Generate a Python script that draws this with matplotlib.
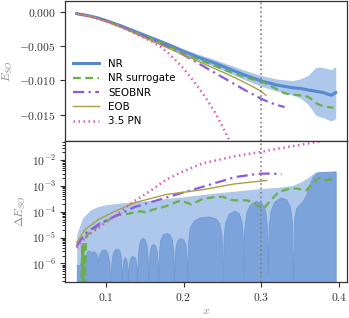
import numpy as np
import matplotlib
matplotlib.use("Agg")
from matplotlib import pyplot as plt
from matplotlib import ticker

plt.rcParams['mathtext.fontset'] = 'cm'
plt.rcParams['font.family'] = ['DejaVu Sans']

# ---- top panel: E_SO(x) ----
nr_x = [0.0626, 0.07, 0.08, 0.09, 0.10, 0.12, 0.14, 0.16, 0.18, 0.20, 0.22, 0.24,
        0.26, 0.28, 0.30, 0.32, 0.34, 0.35, 0.36, 0.365, 0.37, 0.375, 0.38, 0.385,
        0.39, 0.3958]
nr_e = [-0.0003, -0.00045, -0.00066, -0.00093, -0.0013, -0.0021, -0.0030, -0.0039,
        -0.0048, -0.0058, -0.0067, -0.0075, -0.0084, -0.0093, -0.0101, -0.0107,
        -0.0111, -0.0112, -0.0114, -0.0115, -0.0116, -0.0117, -0.0118, -0.0120,
        -0.0122, -0.0118]
# NR error estimate (log10), same grid as NR
nr_err_log = [-4.87, -4.25, -3.93, -3.80, -3.73, -3.66, -3.61, -3.55, -3.48, -3.42,
              -3.35, -3.28, -3.22, -3.16, -3.10, -3.06, -2.98, -2.86, -2.68, -2.56,
              -2.46, -2.44, -2.44, -2.43, -2.43, -2.42]

sur_x = [0.0626, 0.07, 0.08, 0.09, 0.10, 0.12, 0.14, 0.16, 0.18, 0.20, 0.22, 0.24,
         0.26, 0.28, 0.30, 0.31, 0.32, 0.33, 0.34, 0.35, 0.36, 0.365, 0.37, 0.375,
         0.38, 0.385, 0.393]
sur_e = [-0.0003, -0.00046, -0.00069, -0.00096, -0.00134, -0.00218, -0.0031, -0.0040,
         -0.00495, -0.0061, -0.0070, -0.0079, -0.0088, -0.0096, -0.0102, -0.0107,
         -0.0113, -0.0119, -0.0121, -0.0122, -0.0124, -0.0128, -0.0133, -0.0136,
         -0.0138, -0.0139, -0.0140]

seob_x = [0.0626, 0.08, 0.10, 0.12, 0.14, 0.16, 0.18, 0.20, 0.22, 0.24, 0.26, 0.28,
          0.30, 0.31, 0.32, 0.33]
seob_e = [-0.0003, -0.0007, -0.00135, -0.0022, -0.0032, -0.0042, -0.0052, -0.0063,
          -0.0076, -0.0089, -0.0102, -0.0115, -0.0127, -0.0132, -0.0136, -0.0139]

eob_x = [0.0626, 0.08, 0.10, 0.12, 0.14, 0.16, 0.18, 0.20, 0.22, 0.24, 0.26, 0.28,
         0.30, 0.306]
eob_e = [-0.0003, -0.0007, -0.0014, -0.0023, -0.0033, -0.0043, -0.0053, -0.0063,
         -0.0073, -0.0083, -0.0093, -0.0104, -0.0116, -0.0122]

pn_x = [0.0626, 0.08, 0.10, 0.12, 0.14, 0.16, 0.17, 0.18, 0.19, 0.20, 0.21, 0.22,
        0.23, 0.24, 0.25, 0.26]
pn_e = [-0.0003, -0.00072, -0.0014, -0.0023, -0.0033, -0.0044, -0.0051, -0.0060,
        -0.0071, -0.0083, -0.0097, -0.0112, -0.0128, -0.0146, -0.0167, -0.0190]

# ---- bottom panel: Delta E_SO (log10 values) ----
dark_x = [0.0626, 0.065, 0.068, 0.071, 0.074, 0.0755, 0.078, 0.081, 0.084, 0.087,
          0.089, 0.0905, 0.092, 0.095, 0.098, 0.101, 0.103, 0.1045, 0.106,
          0.107, 0.109, 0.111, 0.114, 0.117, 0.119, 0.1198, 0.1206,
          0.1212, 0.1225, 0.1245, 0.1265, 0.1278, 0.1284,
          0.129, 0.131, 0.1344, 0.138, 0.1398, 0.1404,
          0.1411, 0.1425, 0.1445, 0.1475, 0.1505, 0.1525, 0.1539, 0.1546,
          0.1553, 0.1565, 0.1585, 0.161, 0.1635, 0.1655, 0.1668, 0.1675,
          0.1683, 0.170, 0.173, 0.1776, 0.1822, 0.1852, 0.1869, 0.1877,
          0.1885, 0.190, 0.1925, 0.1963, 0.200, 0.2027, 0.2041, 0.2049,
          0.2058, 0.208, 0.213, 0.220, 0.232, 0.241, 0.246, 0.249, 0.2505,
          0.2515, 0.2535, 0.258, 0.265, 0.271, 0.2745, 0.2762, 0.277,
          0.278, 0.281, 0.286, 0.293, 0.300, 0.305, 0.3075, 0.3085,
          0.3095, 0.312, 0.317, 0.325, 0.332, 0.337, 0.3398, 0.341,
          0.3425, 0.345, 0.349, 0.353, 0.358, 0.362, 0.366, 0.371, 0.380, 0.390,
          0.3958]
dark_log = [-6.05, -6.1, -6.0, -5.95, -5.8, -5.55, -5.5, -5.58, -5.52, -5.6,
            -5.7, -5.9, -5.6, -5.48, -5.45, -5.52, -5.7, -6.0, -6.8,
            -6.0, -5.6, -5.47, -5.42, -5.47, -5.65, -6.0, -7.0,
            -6.2, -5.85, -5.75, -5.85, -6.2, -7.0,
            -6.2, -5.8, -5.7, -5.8, -6.2, -7.0,
            -5.8, -5.3, -5.08, -5.01, -5.08, -5.3, -5.8, -7.0,
            -6.0, -5.5, -5.3, -5.24, -5.3, -5.5, -6.0, -7.0,
            -5.6, -5.1, -4.88, -4.82, -4.88, -5.1, -5.6, -7.0,
            -5.8, -5.3, -5.08, -5.02, -5.08, -5.3, -5.8, -7.0,
            -5.2, -4.6, -4.35, -4.23, -4.18, -4.25, -4.45, -4.9, -7.0,
            -5.0, -4.4, -4.08, -3.96, -4.05, -4.35, -4.9, -7.0,
            -4.7, -4.0, -3.7, -3.58, -3.65, -3.95, -4.6, -6.4,
            -4.6, -3.95, -3.6, -3.44, -3.52, -3.8, -4.5, -7.0,
            -4.2, -3.85, -3.72, -3.6, -3.33, -2.94, -2.65, -2.49, -2.46, -2.45,
            -2.44]

dsur_x = [0.0685, 0.0695, 0.0705, 0.0715, 0.0727, 0.0745, 0.078, 0.082, 0.09, 0.099,
          0.108, 0.116, 0.125, 0.1378, 0.145, 0.1524, 0.16, 0.17, 0.178, 0.186,
          0.195, 0.20, 0.21, 0.218, 0.225, 0.236, 0.245, 0.251, 0.258, 0.266,
          0.275, 0.283, 0.292, 0.3026, 0.308, 0.313, 0.3236, 0.3365, 0.345, 0.358,
          0.3666, 0.3752, 0.3838, 0.3924]
dsur_log = [-7.5, -5.3, -7.5, -5.25, -7.5, -4.95, -4.85, -4.75, -4.55, -4.38,
            -4.25, -4.13, -4.1, -4.02, -3.98, -4.04, -3.92, -3.85, -3.78, -3.68,
            -3.58, -3.6, -3.72, -3.6, -3.5, -3.45, -3.42, -3.42, -3.52, -3.56,
            -3.55, -3.57, -3.7, -3.9, -3.7, -3.52, -3.22, -3.11, -3.1, -3.17,
            -2.88, -2.68, -2.78, -2.72]

dseob_x = [0.0626, 0.0733, 0.0905, 0.112, 0.137, 0.178, 0.224, 0.266, 0.296, 0.313,
           0.326]
dseob_log = [-5.33, -4.85, -4.49, -4.17, -3.82, -3.45, -3.04, -2.66, -2.53, -2.52,
             -2.55]

deob_x = [0.0626, 0.0733, 0.0905, 0.112, 0.137, 0.178, 0.224, 0.266, 0.307]
deob_log = [-5.2, -4.69, -4.30, -3.98, -3.65, -3.33, -3.15, -2.92, -2.79]

dpn_x = [0.0626, 0.0733, 0.0905, 0.112, 0.135, 0.157, 0.178, 0.20, 0.225, 0.266,
         0.30, 0.313, 0.354, 0.38, 0.3958]
dpn_log = [-5.40, -5.01, -4.62, -4.17, -3.62, -3.20, -2.75, -2.43, -2.12, -1.85,
           -1.68, -1.60, -1.39, -1.25, -1.17]

c_nr = '#5689d2'
c_band = '#aec8ec'
c_dark = '#7da3db'
c_sur = '#6aaf48'
c_seob = '#8c5ae0'
c_eob = '#a8a040'
c_pn = '#e055b8'

nr = np.array(nr_e)
err = 10 ** np.array(nr_err_log)

fig = plt.figure(figsize=(3.49, 3.18), dpi=100)
ax1 = fig.add_axes([0.1862, 0.5566, 0.8080, 0.4403])
ax2 = fig.add_axes([0.1862, 0.1142, 0.8080, 0.4424], sharex=ax1)

# Top panel
ax1.fill_between(nr_x, nr - err, nr + err, color=c_band, lw=0)
ax1.plot(nr_x, nr, color=c_nr, lw=2.2, label='NR')
ax1.plot(sur_x, sur_e, color=c_sur, lw=1.6, ls=(0, (3.5, 2)), label='NR surrogate')
ax1.plot(seob_x, seob_e, color=c_seob, lw=1.6, ls=(0, (5, 2, 1, 2)), label='SEOBNR')
ax1.plot(eob_x, eob_e, color=c_eob, lw=1.0, label='EOB')
ax1.plot(pn_x, pn_e, color=c_pn, lw=1.8, ls=(0, (0.6, 1.4)), label='3.5 PN')
ax1.axvline(0.3, color='gray', ls=':', lw=1.2)
ax1.set_ylim(-0.01885, 0.00154)
ax1.set_yticks([0.0, -0.005, -0.010, -0.015])
ax1.yaxis.set_major_formatter(ticker.FuncFormatter(lambda v, p: r'$%.3f$' % v))
ax1.set_ylabel(r'$E_{SO}$', color='#888888', fontsize=8.5, labelpad=3)
ax1.tick_params(axis='x', bottom=False, labelbottom=False)
ax1.legend(loc='center left', bbox_to_anchor=(0.0, 0.345), frameon=False,
           fontsize=7.4, handlelength=2.6, handletextpad=0.85, labelspacing=0.42,
           borderaxespad=0.35)

# Bottom panel
ax2.fill_between(nr_x, 1e-9, err, color=c_band, lw=0)
ax2.fill_between(dark_x, 1e-9, 10 ** np.array(dark_log), color=c_dark, lw=0.5,
                 edgecolor='#6f97d2')
ax2.plot(dsur_x, 10 ** np.array(dsur_log), color=c_sur, lw=1.6, ls=(0, (3.5, 2)))
ax2.plot(dseob_x, 10 ** np.array(dseob_log), color=c_seob, lw=1.6, ls=(0, (5, 2, 1, 2)))
ax2.plot(deob_x, 10 ** np.array(deob_log), color=c_eob, lw=1.0)
ax2.plot(dpn_x, 10 ** np.array(dpn_log), color=c_pn, lw=1.8, ls=(0, (0.6, 1.4)))
ax2.axvline(0.3, color='gray', ls=':', lw=1.2)
ax2.set_yscale('log')
ax2.set_ylim(10 ** -6.71, 10 ** -1.26)
ax2.yaxis.set_major_locator(ticker.LogLocator(base=10, numticks=20))
ax2.yaxis.set_minor_locator(ticker.LogLocator(base=10, subs=np.arange(2, 10), numticks=20))
ax2.yaxis.set_minor_formatter(ticker.NullFormatter())
ax2.yaxis.set_major_formatter(ticker.FuncFormatter(
    lambda v, p: r'$10^{%d}$' % int(round(np.log10(v)))))
ax2.set_xlim(0.0475, 0.4103)
ax2.set_xticks([0.1, 0.2, 0.3, 0.4])
ax2.xaxis.set_major_formatter(ticker.FuncFormatter(lambda v, p: r'$%.1f$' % v))
ax2.set_ylabel(r'$\Delta E_{SO}$', color='#888888', fontsize=8.5, labelpad=3)
ax2.set_xlabel(r'$x$', color='#888888', fontsize=8.5, labelpad=0.5)

for ax in (ax1, ax2):
    for s in ax.spines.values():
        s.set_color('#333333')
        s.set_linewidth(0.9)
    ax.tick_params(colors='#333333', labelsize=8.3, length=3.5, width=0.8, pad=3)
    ax.tick_params(which='minor', length=2, width=0.6)

fig.savefig('out.png', dpi=100)
